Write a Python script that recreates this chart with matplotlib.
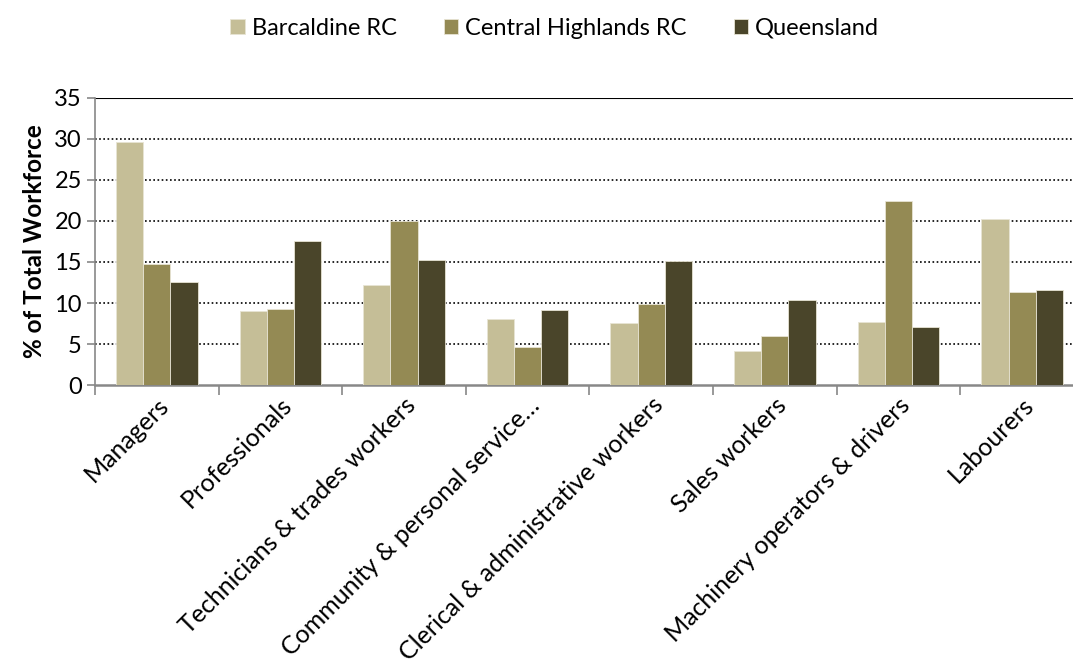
import numpy as np
import matplotlib
matplotlib.use("Agg")
import matplotlib.pyplot as plt

plt.rcParams['font.family'] = ['Lato', 'DejaVu Sans']

categories = ["Managers", "Professionals", "Technicians & trades workers",
              "Community & personal service…", "Clerical & administrative workers",
              "Sales workers", "Machinery operators & drivers", "Labourers"]
barcaldine = [29.6, 9.0, 12.2, 8.1, 7.6, 4.1, 7.7, 20.3]
central_highlands = [14.8, 9.3, 20.0, 4.6, 9.9, 6.0, 22.4, 11.3]
queensland = [12.6, 17.5, 15.2, 9.1, 15.1, 10.4, 7.1, 11.6]

series = [("Barcaldine RC", barcaldine, "#C5BE97"),
          ("Central Highlands RC", central_highlands, "#948A54"),
          ("Queensland", queensland, "#4A452A")]

fig = plt.figure(figsize=(10.73, 6.71), dpi=100)
ax = fig.add_axes([0.0885, 0.4262, 0.9217, 0.4278])

x = np.arange(len(categories))
w = 0.22
for i, (name, vals, col) in enumerate(series):
    ax.bar(x + (i - 1) * w, vals, w, color=col, edgecolor="#E8E4D4",
           linewidth=0.6, label=name, zorder=3)

ax.set_xlim(-0.5, len(categories) - 0.5)
ax.set_ylim(0, 35)
ax.set_yticks(range(0, 36, 5))
for yv in range(5, 35, 5):
    ax.axhline(yv, color="black", linestyle=(0, (1, 1.5)), linewidth=1.2, zorder=1)
ax.axhline(35, color="black", linewidth=1.5, zorder=1)

for s in ["top", "right"]:
    ax.spines[s].set_visible(False)
ax.spines["left"].set_color("#888888")
ax.spines["bottom"].set_color("#888888")
ax.spines["left"].set_linewidth(1.2)
ax.spines["bottom"].set_linewidth(1.8)

ax.set_xticks(np.arange(len(categories) + 1) - 0.5, minor=False)
ax.set_xticklabels([])
ax.set_xticks(x, minor=True)
ax.set_xticklabels(categories, minor=True, rotation=45, ha="right",
                   rotation_mode="anchor", fontsize=18)
ax.tick_params(axis="x", which="minor", length=0, pad=6)
ax.tick_params(axis="x", which="major", length=7, color="#888888", width=1.2)
ax.tick_params(axis="y", length=6, color="#888888", width=1.2, labelsize=17)

ax.set_ylabel("% of Total Workforce", fontsize=17.5, fontweight="bold", labelpad=6)

fig.legend(loc="upper center", bbox_to_anchor=(0.517, 1.005), ncol=3, frameon=False,
           fontsize=17, handlelength=0.6, handleheight=0.6, handletextpad=0.3,
           columnspacing=2.0)

fig.savefig("out.png", dpi=100)
